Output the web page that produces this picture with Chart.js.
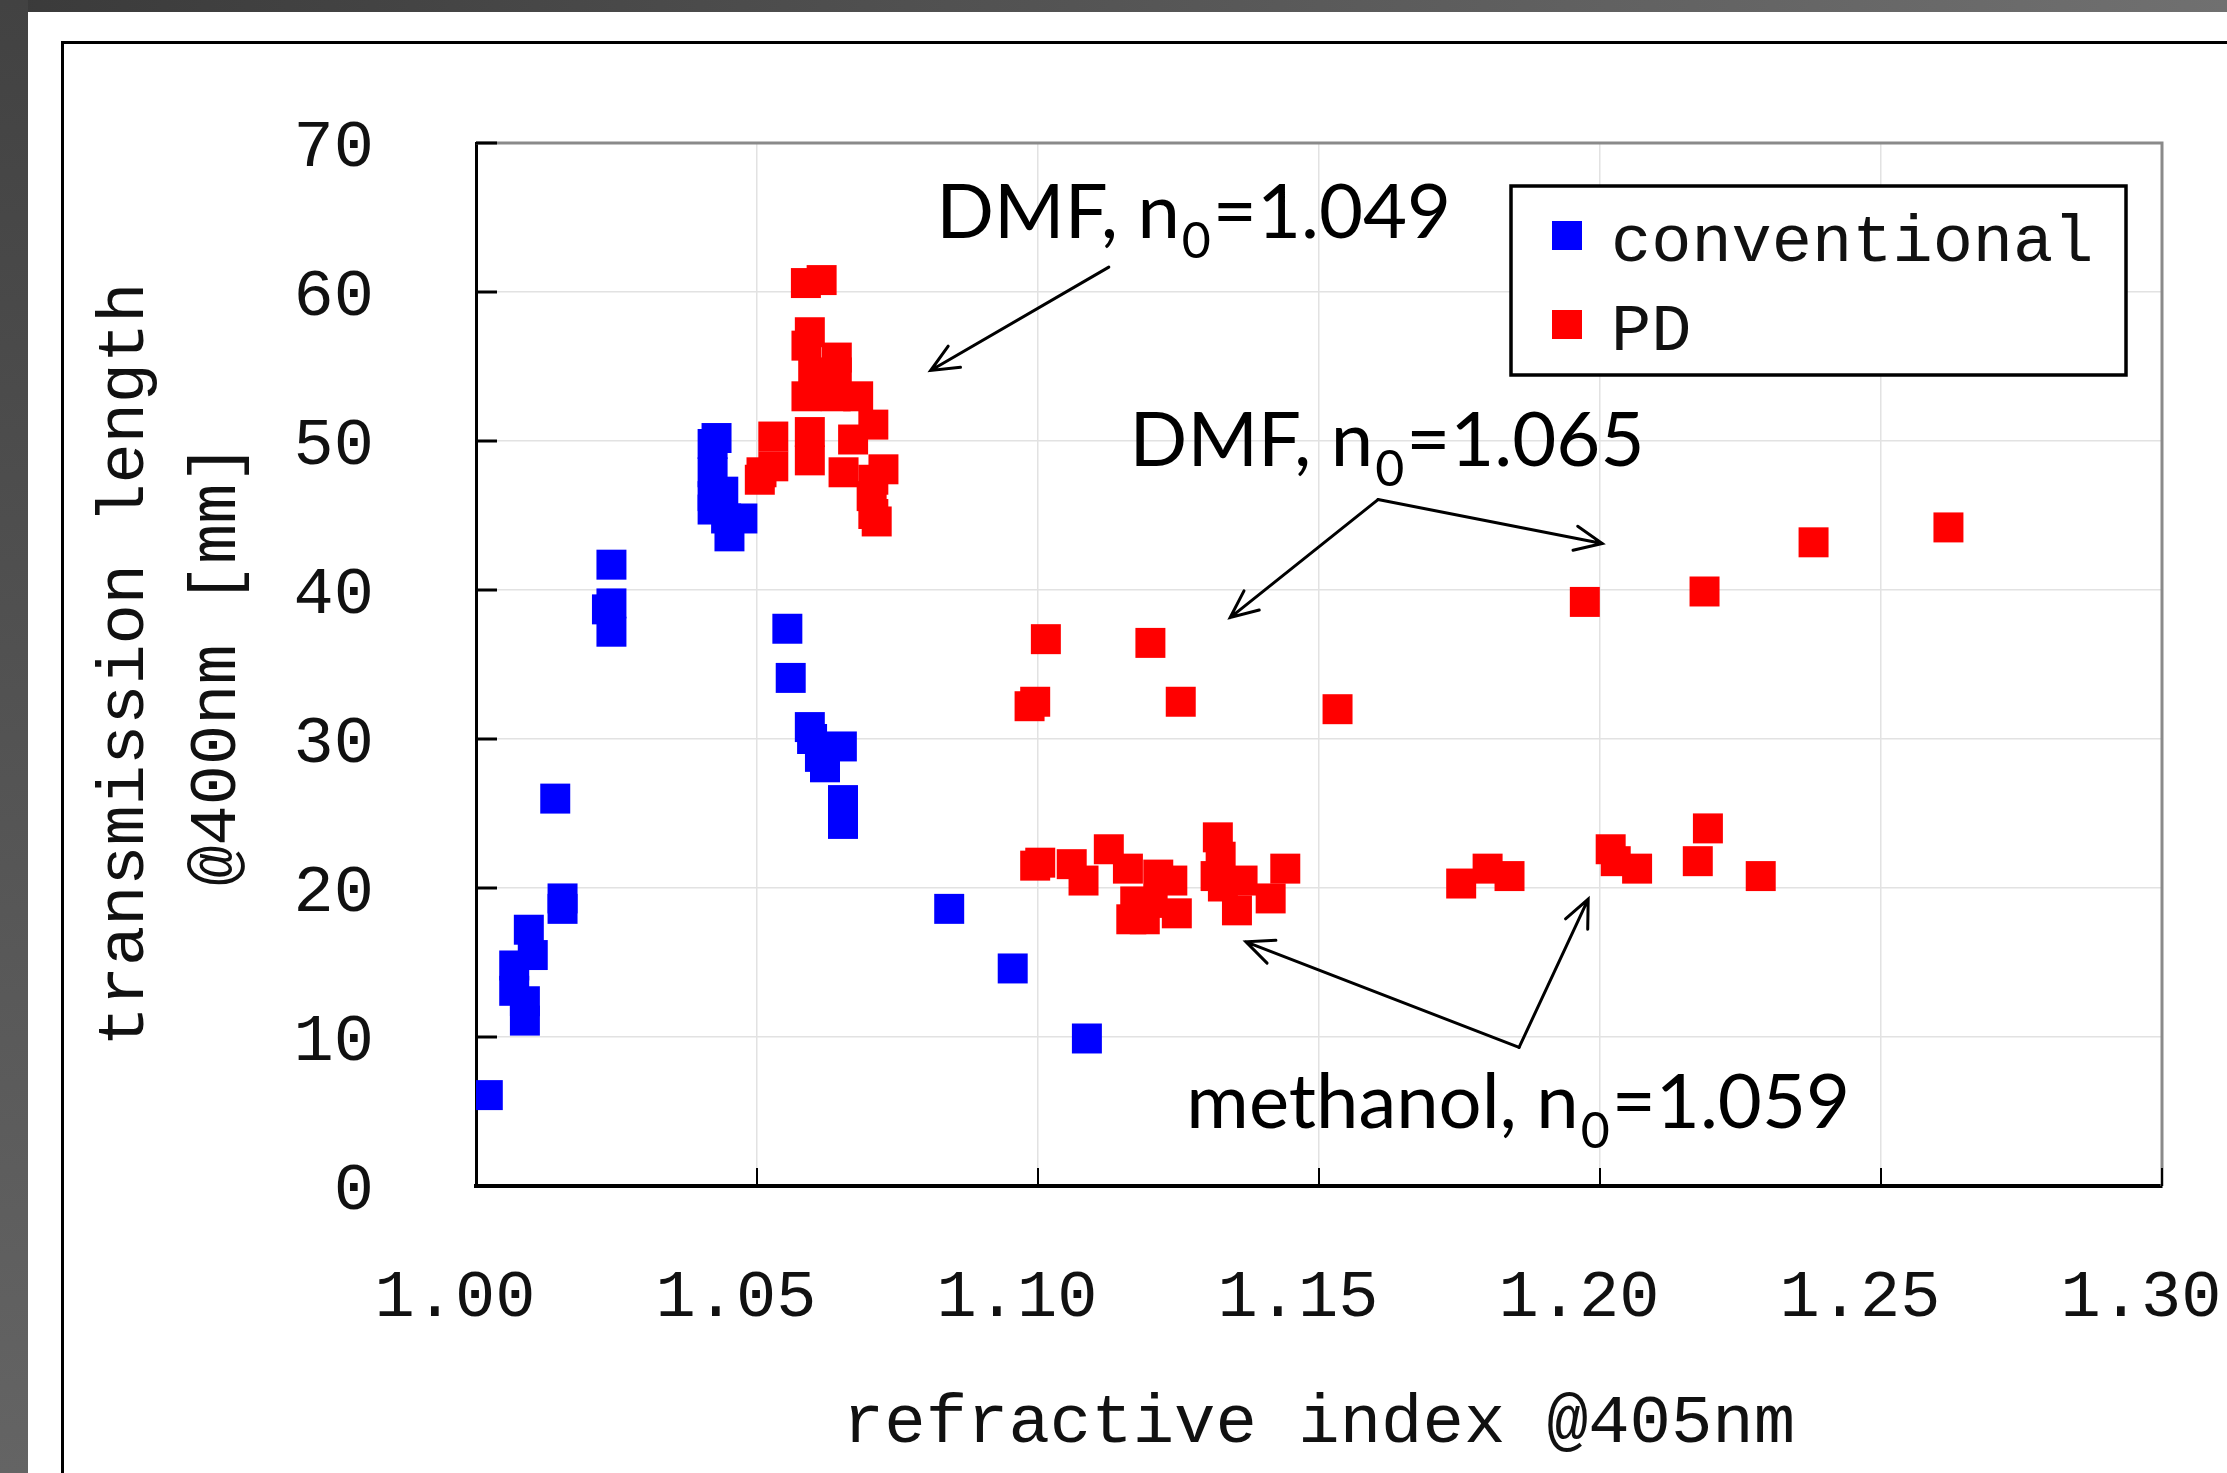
<!DOCTYPE html>
<html>
<head>
<meta charset="utf-8">
<title>transmission length vs refractive index</title>
<script src="https://cdn.jsdelivr.net/npm/chart.js@4.4.1/dist/chart.umd.min.js"></script>
<style>
  html, body { margin: 0; padding: 0; background: #fff; }
</style>
</head>
<body>
<canvas id="chart" width="2227" height="1473"></canvas>
<script>
// conventional aerogel samples
const convX = [1.0021, 1.0094, 1.0101, 1.0068, 1.0068, 1.0087, 1.0087, 1.0154, 1.0154, 1.0141,
               1.0241, 1.0241, 1.0233, 1.0241,
               1.0428, 1.0421, 1.0421, 1.0421, 1.0421, 1.0440, 1.0445, 1.0474, 1.0451,
               1.0554, 1.0560, 1.0594, 1.0598, 1.0612, 1.0621, 1.0651, 1.0653, 1.0653,
               1.0842, 1.0955, 1.1087];
const convY = [6.1, 17.2, 15.5, 14.8, 13.1, 11.1, 12.4, 19.3, 18.6, 26.0,
               41.7, 39.1, 38.7, 37.2,
               50.2, 49.8, 47.9, 46.3, 45.4, 46.6, 44.8, 44.8, 43.6,
               37.4, 34.1, 30.8, 30.0, 28.8, 28.1, 29.5, 25.9, 24.3,
               18.6, 14.6, 9.9];

// pin-drying (PD) samples
const pdX = [1.0587, 1.0615, 1.0594, 1.0588, 1.0642, 1.0642, 1.0600, 1.0588, 1.0680, 1.0640,
             1.0594, 1.0707, 1.0529, 1.0529, 1.0508, 1.0505, 1.0594, 1.0654, 1.0671, 1.0725,
             1.0707, 1.0704, 1.0713, 1.0707,
             1.1014, 1.1200, 1.0985, 1.0995, 1.1254, 1.1533, 1.1973, 1.2186, 1.2380, 1.2620,
             1.1004, 1.0995, 1.1060, 1.1081, 1.1126, 1.1160, 1.1214, 1.1239, 1.1173, 1.1166,
             1.1190, 1.1247, 1.1204, 1.1320, 1.1325, 1.1316, 1.1329, 1.1364, 1.1354, 1.1414,
             1.1440, 1.1753, 1.1800, 1.1839, 1.2019, 1.2028, 1.2066, 1.2174, 1.2192, 1.2286];
const pdY = [60.6, 60.8, 57.3, 56.4, 55.6, 54.6, 54.6, 53.0, 53.0, 53.0,
             50.6, 51.1, 50.3, 48.3, 47.9, 47.4, 48.7, 47.9, 50.1, 48.1,
             47.4, 46.3, 44.6, 45.1,
             36.7, 36.45, 32.2, 32.5, 32.5, 32.0, 39.2, 39.9, 43.2, 44.2,
             21.7, 21.5, 21.6, 20.5, 22.6, 21.3, 20.9, 20.5, 19.1, 17.9,
             17.9, 18.3, 19.0, 23.4, 22.1, 20.8, 20.1, 20.5, 18.5, 19.3,
             21.3, 20.3, 21.3, 20.8, 22.6, 21.8, 21.3, 21.8, 24.0, 20.8];

const seriesNames = ['conventional', 'PD'];
const xTicks = [1.00, 1.05, 1.10, 1.15, 1.20, 1.25, 1.30];
const yTicks = [0, 10, 20, 30, 40, 50, 60, 70];

// callouts: label, anchor of the text (data coords), arrow start and targets
const notes = [
  { pre: 'DMF, n', sub: '0', post: '=1.049', at: [1.0819, 63.6], from: [1.1126, 61.67], to: [[1.0809, 54.73]] },
  { pre: 'DMF, n', sub: '0', post: '=1.065', at: [1.1163, 48.35], from: [1.1605, 46.07], to: [[1.1342, 38.15], [1.2004, 43.12]] },
  { pre: 'methanol, n', sub: '0', post: '=1.059', at: [1.1264, 3.875], from: [1.1856, 9.30], to: [[1.1370, 16.39], [1.1979, 19.25]] }
];

const MONO = '"Liberation Mono", "Courier New", monospace';
const SANS = 'Lato, "Noto Sans", sans-serif';
const colors = ['#0000ff', '#ff0000'];

const toPoints = (xs, ys) => xs.map((x, i) => ({ x, y: ys[i] }));

const framePlugin = {
  id: 'frame',
  beforeDraw(chart) {
    const { ctx, width, height } = chart;
    ctx.save();
    ctx.fillStyle = '#fff';
    ctx.fillRect(0, 0, width, height);
    let g = ctx.createLinearGradient(0, 0, width, 0);
    g.addColorStop(0, '#3a3a3a');
    g.addColorStop(1, '#707070');
    ctx.fillStyle = g;
    ctx.fillRect(0, 0, width, 12);
    g = ctx.createLinearGradient(0, 0, 0, height);
    g.addColorStop(0, '#424242');
    g.addColorStop(1, '#646464');
    ctx.fillStyle = g;
    ctx.fillRect(0, 0, 28, height);
    ctx.strokeStyle = '#000';
    ctx.lineWidth = 3;
    ctx.beginPath();
    ctx.moveTo(width + 5, 42.5);
    ctx.lineTo(62.5, 42.5);
    ctx.lineTo(62.5, height + 5);
    ctx.stroke();
    ctx.restore();
  }
};

const axesPlugin = {
  id: 'axesExtras',
  beforeDatasetsDraw(chart) {
    const { ctx, chartArea: a, scales: { x, y } } = chart;
    ctx.save();
    // top and right edges of the plot box
    ctx.strokeStyle = '#8a8a8a';
    ctx.lineWidth = 3;
    ctx.beginPath();
    ctx.moveTo(a.left, a.top);
    ctx.lineTo(a.right, a.top);
    ctx.lineTo(a.right, a.bottom);
    ctx.stroke();
    // inward tick marks
    ctx.strokeStyle = '#000';
    ctx.lineWidth = 3;
    ctx.beginPath();
    yTicks.forEach(v => {
      const py = y.getPixelForValue(v);
      ctx.moveTo(a.left, py);
      ctx.lineTo(a.left + 21, py);
    });
    ctx.stroke();
    ctx.lineWidth = 2;
    ctx.beginPath();
    xTicks.forEach(v => {
      const px = x.getPixelForValue(v);
      ctx.moveTo(px, a.bottom);
      ctx.lineTo(px, a.bottom - 18);
    });
    ctx.stroke();
    ctx.restore();
  }
};

function arrow(ctx, x0, y0, x1, y1) {
  const ang = Math.atan2(y1 - y0, x1 - x0);
  const len = 30, spread = 0.42;
  ctx.beginPath();
  ctx.moveTo(x0, y0);
  ctx.lineTo(x1, y1);
  ctx.moveTo(x1 - len * Math.cos(ang - spread), y1 - len * Math.sin(ang - spread));
  ctx.lineTo(x1, y1);
  ctx.lineTo(x1 - len * Math.cos(ang + spread), y1 - len * Math.sin(ang + spread));
  ctx.stroke();
}

const notesPlugin = {
  id: 'notes',
  afterDatasetsDraw(chart) {
    const { ctx, scales: { x, y } } = chart;
    ctx.save();
    ctx.fillStyle = '#000';
    ctx.strokeStyle = '#000';
    ctx.lineWidth = 3;
    ctx.lineCap = 'round';
    ctx.textBaseline = 'alphabetic';
    ctx.textAlign = 'left';
    notes.forEach(n => {
      const tx = x.getPixelForValue(n.at[0]);
      const ty = y.getPixelForValue(n.at[1]);
      ctx.font = '76px ' + SANS;
      ctx.fillText(n.pre, tx, ty);
      let w = ctx.measureText(n.pre).width + 2;
      ctx.font = '50px ' + SANS;
      ctx.fillText(n.sub, tx + w, ty + 20);
      w += ctx.measureText(n.sub).width + 2;
      ctx.font = '76px ' + SANS;
      ctx.fillText(n.post, tx + w, ty);
      const sx = x.getPixelForValue(n.from[0]);
      const sy = y.getPixelForValue(n.from[1]);
      n.to.forEach(t => arrow(ctx, sx, sy, x.getPixelForValue(t[0]), y.getPixelForValue(t[1])));
    });
    ctx.restore();
  }
};

const legendPlugin = {
  id: 'boxLegend',
  afterDraw(chart) {
    const { ctx, chartArea: a } = chart;
    const left = a.right - 651, top = a.top + 43, w = 615, h = 189;
    ctx.save();
    ctx.fillStyle = '#fff';
    ctx.fillRect(left, top, w, h);
    ctx.strokeStyle = '#000';
    ctx.lineWidth = 3.5;
    ctx.strokeRect(left, top, w, h);
    ctx.font = '67px ' + MONO;
    ctx.textBaseline = 'alphabetic';
    ctx.textAlign = 'left';
    chart.data.datasets.forEach((ds, i) => {
      const cy = top + 50 + i * 89;
      ctx.fillStyle = ds.backgroundColor;
      ctx.fillRect(left + 41, cy - 15, 30, 29);
      ctx.fillStyle = '#111';
      ctx.fillText(ds.label, left + 100, cy + 25);
    });
    ctx.restore();
  }
};

new Chart(document.getElementById('chart').getContext('2d'), {
  type: 'scatter',
  data: {
    datasets: [
      { label: seriesNames[0], data: toPoints(convX, convY) },
      { label: seriesNames[1], data: toPoints(pdX, pdY) }
    ].map((d, i) => Object.assign(d, {
      backgroundColor: colors[i],
      borderColor: colors[i],
      borderWidth: 0,
      pointStyle: 'rect',
      pointRadius: 21.2,
      pointHoverRadius: 21.2
    }))
  },
  options: {
    responsive: false,
    animation: false,
    events: [],
    layout: { padding: { left: 0, top: 143, right: 65, bottom: 0 } },
    plugins: {
      legend: { display: false },
      tooltip: { enabled: false },
      title: { display: false }
    },
    scales: {
      x: {
        type: 'linear',
        min: 1.0,
        max: 1.3,
        afterBuildTicks: s => { s.ticks = xTicks.map(v => ({ value: v })); },
        afterFit: s => { s.height = 287; s.paddingLeft = 0; s.paddingRight = 0; },
        grid: { color: '#e2e2e2', lineWidth: 1.5, drawTicks: false },
        border: { color: '#000', width: 4 },
        ticks: {
          padding: 72,
          labelOffset: -21,
          maxRotation: 0,
          autoSkip: false,
          color: '#111',
          font: { family: MONO, size: 67 },
          callback: v => v.toFixed(2)
        },
        title: {
          display: true,
          text: 'refractive index @405nm',
          color: '#111',
          font: { family: MONO, size: 69, lineHeight: 1.2 },
          padding: { top: 0, bottom: 8 }
        }
      },
      y: {
        type: 'linear',
        min: 0,
        max: 70,
        afterBuildTicks: s => { s.ticks = yTicks.map(v => ({ value: v })); },
        afterFit: s => { s.width = 476; s.paddingTop = 0; s.paddingBottom = 0; },
        grid: { color: '#e2e2e2', lineWidth: 1.5, drawTicks: false },
        border: { color: '#000', width: 3 },
        ticks: {
          padding: 102,
          labelOffset: 5,
          color: '#111',
          font: { family: MONO, size: 67 }
        },
        title: {
          display: true,
          text: ['transmission length', '@400nm [mm]'],
          color: '#111',
          font: { family: MONO, size: 67, lineHeight: 1.373 },
          padding: { top: 79, bottom: 0 }
        }
      }
    }
  },
  plugins: [framePlugin, axesPlugin, notesPlugin, legendPlugin]
});
</script>
</body>
</html>
